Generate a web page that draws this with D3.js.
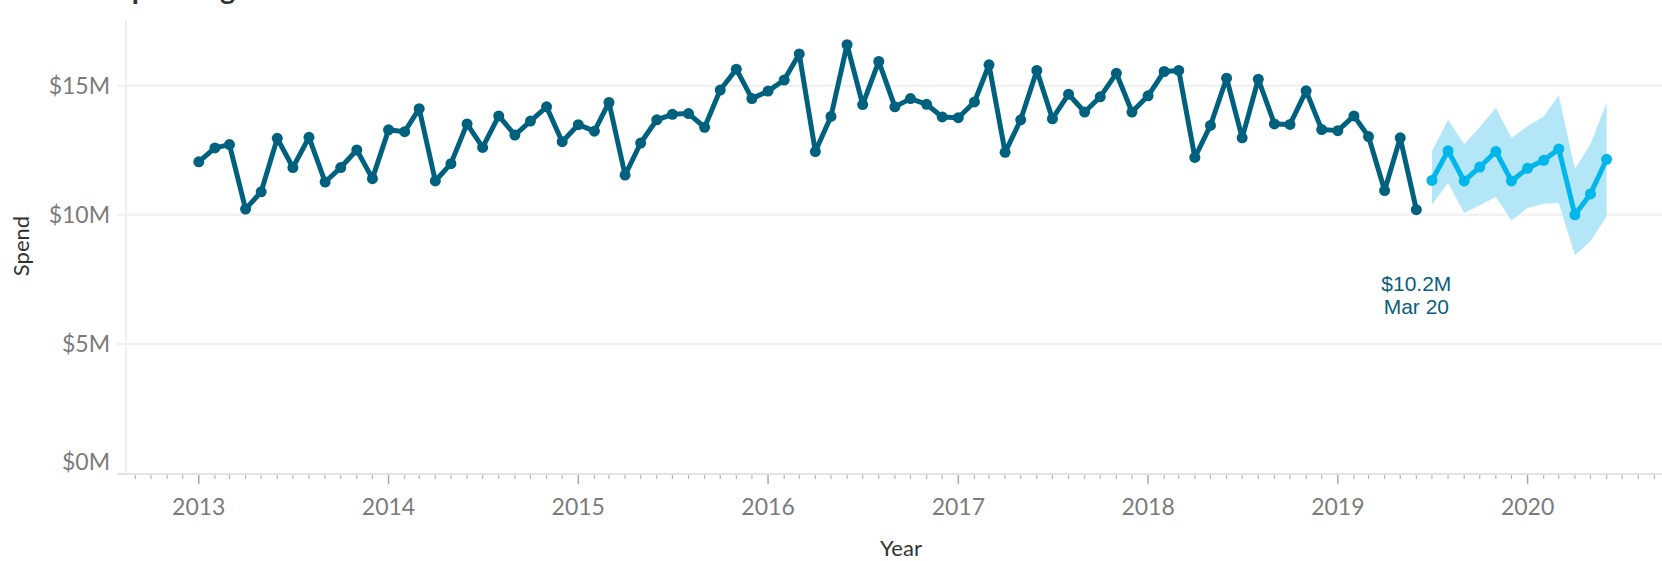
<!DOCTYPE html>
<html>
<head>
<meta charset="utf-8">
<script src="https://cdn.jsdelivr.net/npm/d3@7"></script>
<style>
    body { margin: 0; background: #fff; }
    svg { display: block; }
    .tick-label { font-family: Lato, "Open Sans", sans-serif; font-size: 23px; fill: #7b7b7b; }
    .axis-title { font-family: Lato, "Open Sans", sans-serif; font-size: 22px; fill: #333; }
    .note { font-family: "Liberation Sans", Arial, sans-serif; font-size: 21px; fill: #0a5e7c; }
</style>
</head>
<body>
<script>
//data, spend in $M, one value per month
var actualStart = new Date(2013, 0, 1);
var actual = [
    12.05, 12.59, 12.72, 10.22, 10.89, 12.96, 11.83, 13.00, 11.27, 11.83, 12.51, 11.40,
    13.29, 13.22, 14.11, 11.31, 11.98, 13.52, 12.61, 13.83, 13.09, 13.63, 14.18, 12.83,
    13.49, 13.24, 14.35, 11.54, 12.78, 13.68, 13.89, 13.92, 13.39, 14.83, 15.64, 14.50,
    14.79, 15.22, 16.23, 12.45, 13.81, 16.59, 14.27, 15.94, 14.18, 14.50, 14.28, 13.79,
    13.76, 14.37, 15.81, 12.42, 13.68, 15.59, 13.72, 14.67, 13.98, 14.57, 15.48, 13.98,
    14.61, 15.55, 15.59, 12.22, 13.46, 15.29, 12.98, 15.25, 13.52, 13.50, 14.80, 13.30,
    13.26, 13.83, 13.03, 10.94, 12.98, 10.20
];
var forecast = [11.33, 12.48, 11.31, 11.85, 12.45, 11.31, 11.80, 12.11, 12.55, 10.00, 10.81, 12.15];
var bandUpper = [12.45, 13.68, 12.74, 13.39, 14.15, 12.98, 13.43, 13.81, 14.63, 11.76, 12.74, 14.34];
var bandLower = [10.39, 11.24, 10.07, 10.37, 10.69, 9.78, 10.26, 10.43, 10.46, 8.43, 8.98, 9.93];
var yTicks = [0, 5, 10, 15];
var years = [2013, 2014, 2015, 2016, 2017, 2018, 2019, 2020];
var note = ['$10.2M', 'Mar 20'];

var W = 1662, H = 561;
var C = { dark: '#00617f', light: '#00b6eb', band: '#b3e7f8', grid: '#efefef' };
var plot = { left: 126, top: 20, bottom: 474 };

var svg = d3.select('body').append('svg').attr('width', W).attr('height', H);

var x = d3.scaleTime()
    .domain([new Date(2012, 7, 14), new Date(2020, 8, 4)])
    .range([126, 1656]);
var y = d3.scaleLinear().domain([0, 15]).range([473, 85.7]);

var month = function (i) { return d3.timeMonth.offset(actualStart, i); };
var act = actual.map(function (v, i) { return { d: month(i), v: v }; });
var fc = forecast.map(function (v, i) {
    return { d: month(actual.length + i), v: v, hi: bandUpper[i], lo: bandLower[i] };
});

//title, cut off at the top like the original
svg.append('text')
    .attr('x', 116).attr('y', -1)
    .style('font-family', 'Lato, sans-serif').style('font-size', '29px')
    .style('font-weight', 'bold').style('fill', '#333')
    .text('Spending');

//grid
svg.selectAll('.grid').data(yTicks.filter(function (t) { return t > 0; }))
    .enter().append('line')
    .attr('x1', 117).attr('x2', W)
    .attr('y1', function (d) { return y(d); }).attr('y2', function (d) { return y(d); })
    .attr('stroke', C.grid).attr('stroke-width', 2);

svg.append('line')
    .attr('x1', plot.left).attr('x2', plot.left)
    .attr('y1', plot.top).attr('y2', plot.bottom)
    .attr('stroke', C.grid).attr('stroke-width', 2);

//y labels, the bottom one is pushed up inside the plot
svg.selectAll('.ylab').data(yTicks).enter().append('text')
    .attr('class', 'tick-label')
    .attr('x', 110).attr('y', function (d) { return d === 0 ? y(d) - 11 : y(d); })
    .attr('dy', '0.35em').attr('text-anchor', 'end')
    .text(function (d) { return '$' + d + 'M'; });

//x axis: light line, monthly minor ticks, yearly major ticks
svg.append('line')
    .attr('x1', 117).attr('x2', W)
    .attr('y1', plot.bottom).attr('y2', plot.bottom)
    .attr('stroke', '#e4e4e4').attr('stroke-width', 2);

var months = d3.timeMonth.range(x.domain()[0], x.domain()[1]);
svg.selectAll('.minor').data(months.filter(function (d) { return d.getMonth() !== 0; }))
    .enter().append('line')
    .attr('x1', function (d) { return x(d); }).attr('x2', function (d) { return x(d); })
    .attr('y1', plot.bottom + 1).attr('y2', plot.bottom + 5)
    .attr('stroke', '#b5b5b5').attr('stroke-width', 1.2);

svg.selectAll('.major').data(years).enter().append('line')
    .attr('x1', function (d) { return x(new Date(d, 0, 1)); })
    .attr('x2', function (d) { return x(new Date(d, 0, 1)); })
    .attr('y1', plot.bottom + 1).attr('y2', plot.bottom + 10)
    .attr('stroke', '#a8a8a8').attr('stroke-width', 1.5);

svg.selectAll('.xlab').data(years).enter().append('text')
    .attr('class', 'tick-label')
    .attr('x', function (d) { return x(new Date(d, 0, 1)); })
    .attr('y', 515).attr('text-anchor', 'middle')
    .text(function (d) { return d; });

//axis titles
svg.append('text').attr('class', 'axis-title')
    .attr('transform', 'translate(29,246) rotate(-90)')
    .attr('text-anchor', 'middle').text('Spend');
svg.append('text').attr('class', 'axis-title')
    .attr('x', 901).attr('y', 556).attr('text-anchor', 'middle').text('Year');

//forecast band
svg.append('path')
    .datum(fc)
    .attr('fill', C.band)
    .attr('d', d3.area()
        .x(function (d) { return x(d.d); })
        .y0(function (d) { return y(d.lo); })
        .y1(function (d) { return y(d.hi); }));

var line = d3.line()
    .x(function (d) { return x(d.d); })
    .y(function (d) { return y(d.v); });

function series(data, color) {
    svg.append('path').datum(data)
        .attr('fill', 'none').attr('stroke', color)
        .attr('stroke-width', 5).attr('stroke-linejoin', 'round')
        .attr('d', line);
    svg.append('g').selectAll('circle').data(data).enter().append('circle')
        .attr('cx', function (d) { return x(d.d); })
        .attr('cy', function (d) { return y(d.v); })
        .attr('r', 5.5)
        .attr('fill', color);
}
series(act, C.dark);
series(fc, C.light);

//label of last actual month
var last = act[act.length - 1];
svg.selectAll('.note').data(note).enter().append('text')
    .attr('class', 'note')
    .attr('x', x(last.d))
    .attr('y', function (d, i) { return 291 + i * 23; })
    .attr('text-anchor', 'middle')
    .text(function (d) { return d; });
</script>
</body>
</html>
